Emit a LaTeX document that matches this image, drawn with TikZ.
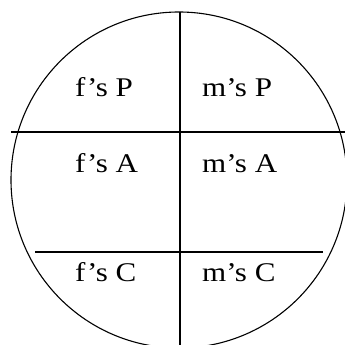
\documentclass[tikz,border=0pt]{standalone}
\usepackage{fontspec}
\setmainfont{Liberation Serif}[FakeStretch=1.15]

\begin{document}
\begin{tikzpicture}[
        x=1pt, y=-1pt,
        trazo/.style={line width=1.1pt},
        celda/.style={anchor=base west, inner sep=0pt, font=\fontsize{27}{32}\selectfont}
    ]
        \useasboundingbox (0,0) rectangle (345,345);
        \clip (0,0) rectangle (345,345);

        % contorno
        \draw[trazo] (179,180) circle[radius=168];

        % divisiones
        \coordinate (arriba) at (180,12);
        \coordinate (abajo) at (180,345);
        \coordinate (izq1) at (11,132);
        \coordinate (der1) at (345,132);
        \coordinate (izq2) at (35,252);
        \coordinate (der2) at (323,252);
        \draw[trazo] (arriba) -- (abajo);
        \draw[trazo] (izq1) -- (der1);
        \draw[trazo] (izq2) -- (der2);

        % textos
        \node[celda] (fp) at (75,96) {f’s P};
        \node[celda] (mp) at (202,96) {m’s P};
        \node[celda] (fa) at (75,172) {f’s A};
        \node[celda] (ma) at (202,172) {m’s A};
        \node[celda] (fc) at (75,281) {f’s C};
        \node[celda] (mc) at (202,281) {m’s C};
    \end{tikzpicture}
\end{document}
